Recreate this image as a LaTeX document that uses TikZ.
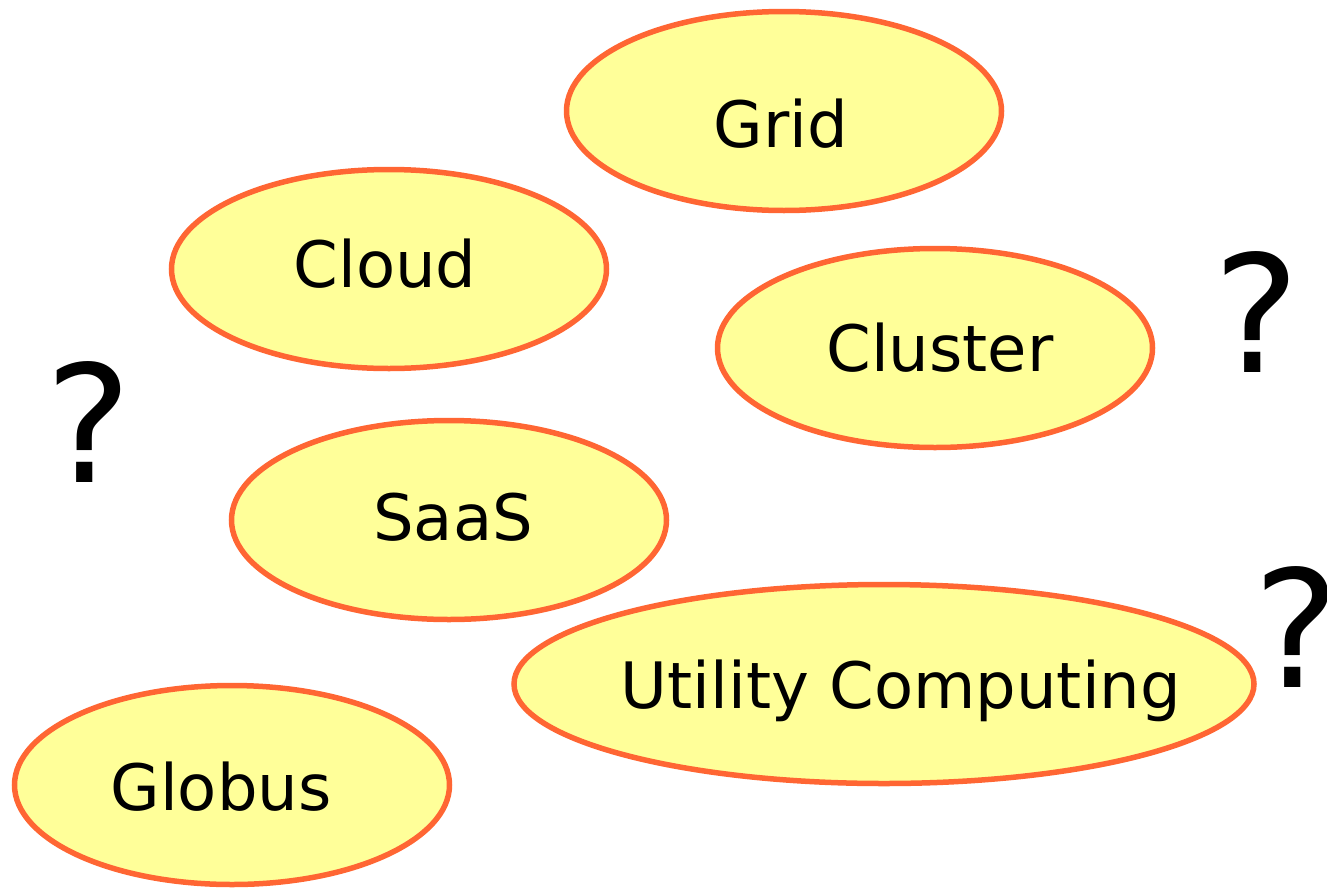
\documentclass[tikz,border=0pt]{standalone}
\usepackage{fontspec}
\setmainfont{DejaVu Sans}
\usetikzlibrary{shapes.geometric}
\definecolor{blobfill}{HTML}{FFFF99}
\definecolor{blobline}{HTML}{FF6633}
\tikzset{
  blob/.style={ellipse, draw=blobline, fill=blobfill, line width=5.5pt,
               inner sep=0pt, minimum width=435pt, minimum height=199pt},
  word/.style={anchor=base, inner sep=0pt, font=\fontsize{64}{76}\selectfont},
  query/.style={anchor=base, inner sep=0pt, font=\fontsize{163}{190}\selectfont}
}
\begin{document}
\begin{tikzpicture}[x=1pt, y=-1pt]
\useasboundingbox (0,0) rectangle (1327,889);
% term bubbles
\node[blob] (grid)    at (784,111) {};
\node[blob] (cloud)   at (389,269) {};
\node[blob] (cluster) at (935,348) {};
\node[blob] (saas)    at (449,520) {};
\node[blob, minimum width=740pt] (utility) at (884,684) {};
\node[blob] (globus)  at (232,785) {};
% labels
\node[word] (tgrid)    at (781,147) {Grid};
\node[word] (tcloud)   at (385,287) {Cloud};
\node[word] (tcluster) at (940,371) {Cluster};
\node[word] (tsaas)    at (453,540) {SaaS};
\node[word] (tutility) at (901,708) {Utility Computing};
\node[word] (tglobus)  at (221,810) {Globus};
% question marks
\node[query] (q1) at (89,482) {?};
\node[query] (q2) at (1257,372) {?};
\node[query] (q3) at (1297,687) {?};
\end{tikzpicture}
\end{document}
